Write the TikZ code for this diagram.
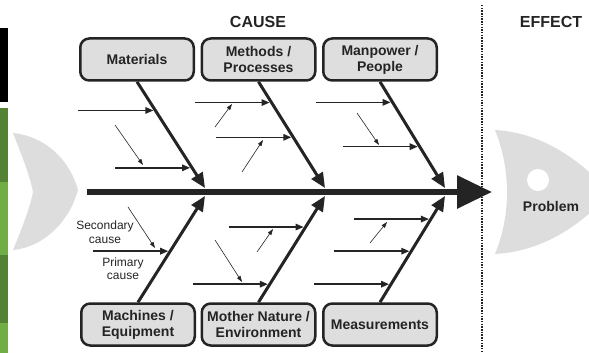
\documentclass[tikz,border=0pt]{standalone}
\usepackage{fontspec}
\setmainfont{Liberation Sans}
\usetikzlibrary{arrows.meta}
\definecolor{fishgray}{RGB}{221,221,221}
\definecolor{boxgray}{RGB}{222,222,222}
\definecolor{inkgray}{RGB}{36,36,36}
\definecolor{darkgreen}{RGB}{84,130,53}
\definecolor{lightgreen}{RGB}{112,173,71}
\begin{document}
\begin{tikzpicture}[x=1pt,y=-1pt,
  catbox/.style={draw=inkgray, fill=boxgray, line width=2.5pt, rounded corners=9pt,
    minimum width=113.5pt, minimum height=42pt, inner sep=0pt, align=center,
    text=inkgray, font=\bfseries\fontsize{14}{16}\selectfont},
  headline/.style={text=inkgray, font=\bfseries\fontsize{16}{18}\selectfont},
  note/.style={text=inkgray, align=center, font=\fontsize{12}{13.5}\selectfont},
  spine/.style={draw=inkgray, line width=6pt, -{Triangle[length=35pt,width=32pt]}},
  bone/.style={draw=inkgray, line width=3pt, -{Triangle[length=15pt,width=13pt]}},
  primary/.style={draw=inkgray, line width=1.5pt, -{Triangle[length=8pt,width=6.5pt]}, shorten >=2pt},
  secondary/.style={draw=inkgray, line width=0.6pt, -{Triangle[length=6pt,width=4pt]}},
  divider/.style={draw=inkgray, line width=1.8pt, dash pattern=on 1.5pt off 1.2pt}]
\useasboundingbox (0,0) rectangle (589,353);

% side strip
\fill[black] (0,28) rectangle (8,102);
\fill[darkgreen] (0,108) rectangle (8,182);
\fill[lightgreen] (0,182) rectangle (8,255);
\fill[darkgreen] (0,255) rectangle (8,323);
\fill[lightgreen] (0,323) rectangle (8,353);

% fish tail and head
\fill[fishgray] (13,133) .. controls (45,136) and (70,160) .. (78,190)
  .. controls (70,220) and (45,247) .. (13,250)
  .. controls (22,228) and (30,208) .. (33,192)
  .. controls (30,176) and (22,156) .. cycle;
\begin{scope}
\clip (0,0) rectangle (589,353);
\fill[fishgray] (495,130) .. controls (547,133) and (585,165) .. (610,193)
  .. controls (585,221) and (547,251) .. (495,254)
  .. controls (511,215) and (511,170) .. cycle;
\fill[white] (538,180) circle (11pt);
\end{scope}

% headings
\node [headline] (cause) at (258,22) {CAUSE};
\node [headline] (effect) at (551,22) {EFFECT};
\node [text=inkgray, font=\bfseries\fontsize{14}{16}\selectfont] (problem) at (551,206) {Problem};
\coordinate (divTop) at (482,5);
\coordinate (divBot) at (482,353);
\draw [divider] (divTop) -- (divBot);

% categories
\node [catbox] (mat) at (137,59.5) {Materials};
\node [catbox] (meth) at (258.5,59.5) {Methods /\\Processes};
\node [catbox] (man) at (380,59.5) {Manpower /\\People};
\node [catbox] (mach) at (138,324.5) {Machines /\\Equipment};
\node [catbox] (nat) at (258.5,324.5) {Mother Nature /\\Environment};
\node [catbox] (meas) at (380,324.5) {Measurements};

% spine
\coordinate (spineStart) at (87,192);
\coordinate (spineEnd) at (492,192);
\draw [spine] (spineStart) -- (spineEnd);

% bones
\coordinate (matTip) at (205,188);
\coordinate (methTip) at (325,188);
\coordinate (manTip) at (445,188);
\coordinate (machTip) at (205,196);
\coordinate (natTip) at (325,196);
\coordinate (measTip) at (445,196);
\draw [bone] (mat.south) -- (matTip);
\draw [bone] (meth.south) -- (methTip);
\draw [bone] (man.south) -- (manTip);
\draw [bone] (mach.north) -- (machTip);
\draw [bone] (nat.north) -- (natTip);
\draw [bone] (meas.north) -- (measTip);

% primary causes
\path (mat.south) -- (matTip) coordinate[pos=0.27] (mat1) coordinate[pos=0.81] (mat2);
\path (meth.south) -- (methTip) coordinate[pos=0.196] (meth1) coordinate[pos=0.523] (meth2);
\path (man.south) -- (manTip) coordinate[pos=0.194] (man1) coordinate[pos=0.611] (man2);
\path (mach.north) -- (machTip) coordinate[pos=0.481] (mach1);
\path (nat.north) -- (natTip) coordinate[pos=0.708] (nat1) coordinate[pos=0.17] (nat2);
\path (meas.north) -- (measTip) coordinate[pos=0.783] (meas1) coordinate[pos=0.481] (meas2) coordinate[pos=0.17] (meas3);
\draw [primary] ([xshift=-77pt]mat1) -- (mat1);
\draw [primary] ([xshift=-77pt]mat2) -- (mat2);
\draw [primary] ([xshift=-77pt]meth1) -- (meth1);
\draw [primary] ([xshift=-77pt]meth2) -- (meth2);
\draw [primary] ([xshift=-77pt]man1) -- (man1);
\draw [primary] ([xshift=-77pt]man2) -- (man2);
\draw [primary] ([xshift=-77pt]mach1) -- (mach1);
\draw [primary] ([xshift=-77pt]nat1) -- (nat1);
\draw [primary] ([xshift=-77pt]nat2) -- (nat2);
\draw [primary] ([xshift=-77pt]meas1) -- (meas1);
\draw [primary] ([xshift=-77pt]meas2) -- (meas2);
\draw [primary] ([xshift=-77pt]meas3) -- (meas3);

% secondary causes
\coordinate (sec1a) at (115,125); \coordinate (sec1b) at (143,165);
\coordinate (sec2a) at (215,127); \coordinate (sec2b) at (232,104);
\coordinate (sec3a) at (242,172); \coordinate (sec3b) at (263,140);
\coordinate (sec4a) at (357,113); \coordinate (sec4b) at (379,145);
\coordinate (sec5a) at (128,207); \coordinate (sec5b) at (155,248);
\coordinate (sec6a) at (257,252); \coordinate (sec6b) at (273,229);
\coordinate (sec7a) at (215,240); \coordinate (sec7b) at (242,282);
\coordinate (sec8a) at (370,243); \coordinate (sec8b) at (387,222);
\draw [secondary] (sec1a) -- (sec1b);
\draw [secondary] (sec2a) -- (sec2b);
\draw [secondary] (sec3a) -- (sec3b);
\draw [secondary] (sec4a) -- (sec4b);
\draw [secondary] (sec5a) -- (sec5b);
\draw [secondary] (sec6a) -- (sec6b);
\draw [secondary] (sec7a) -- (sec7b);
\draw [secondary] (sec8a) -- (sec8b);

% legend labels
\node [note] (secLabel) at (105,232) {Secondary\\cause};
\node [note] (primLabel) at (123,268.5) {Primary\\cause};
\end{tikzpicture}
\end{document}
